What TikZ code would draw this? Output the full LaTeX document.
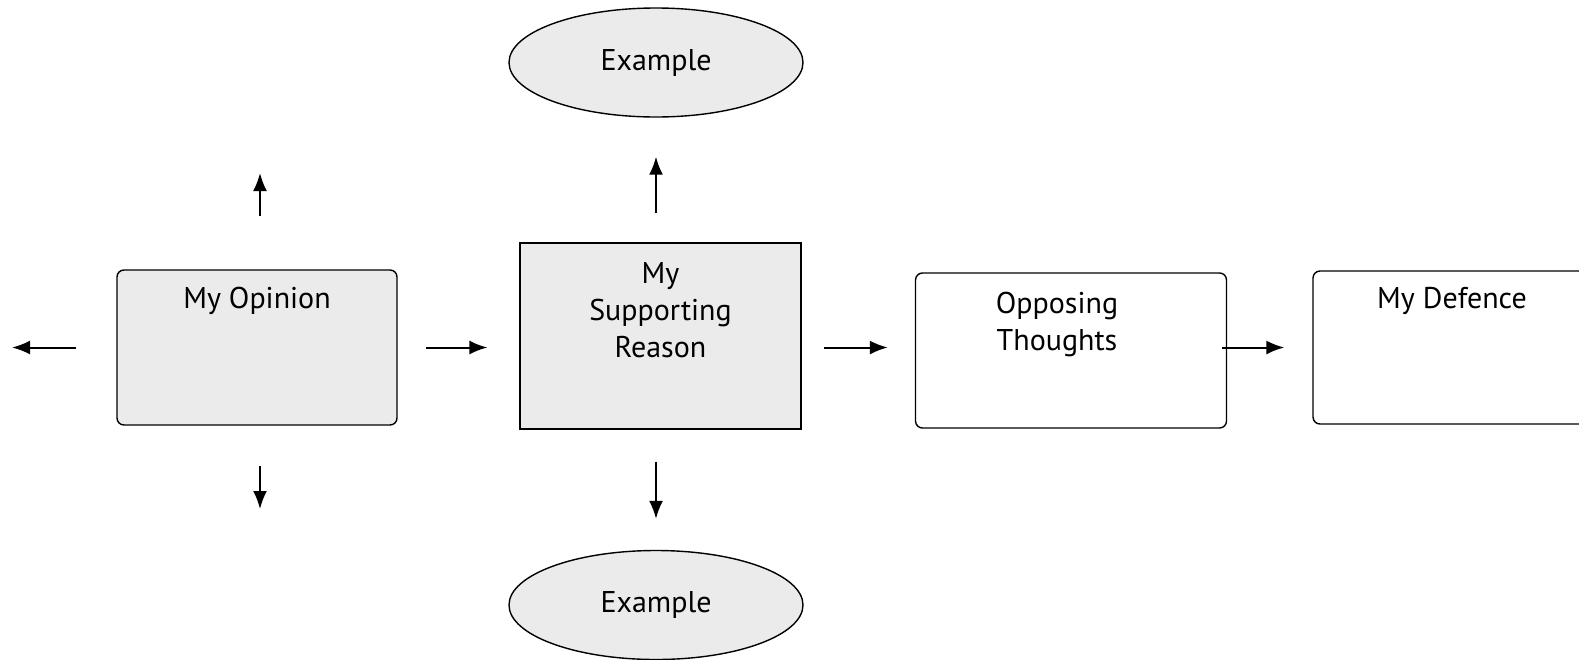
\documentclass[tikz,border=0pt]{standalone}
\usepackage{fontspec}
\setmainfont{PT Sans}
\usetikzlibrary{arrows.meta,positioning,calc,shapes.geometric}
\definecolor{cardgray}{HTML}{EBEBEB}

\begin{document}
\begin{tikzpicture}[x=0.5pt,y=-0.5pt,>={Latex[length=9pt,width=7pt]},
    every node/.style={font=\fontsize{15}{18.5}\selectfont,align=center},
    card/.style={draw,line width=0.7pt,rounded corners=3.5pt,minimum height=77.5pt},
    plain/.style={draw,line width=0.6pt,minimum width=140.5pt,minimum height=93pt},
    bubble/.style={draw,ellipse,line width=0.7pt,fill=cardgray,minimum width=147pt,minimum height=54.5pt},
    arrow/.style={->,line width=1pt}]
    \clip (0,0) rectangle (1579,659);
    \node[card,fill=cardgray,minimum width=140pt,label={[anchor=center,yshift=-16pt]north:My Opinion}] (op) at (257,347.5) {};
    \node[plain,fill=cardgray,label={[anchor=center,yshift=-34pt]north:My\\Supporting\\Reason}] (sr) at (660.5,336) {};
    \node[card,minimum width=155.5pt,label={[anchor=center,yshift=-26pt,xshift=-7pt]north:Opposing\\Thoughts}] (ot) at (1071,350.5) {};
    \node[card,minimum width=139pt,minimum height=76.5pt,label={[anchor=center,yshift=-15.5pt]north:My Defence}] (md) at (1452,347.5) {};
    \node[bubble] (ex1) at (656,62.5) {Example};
    \node[bubble] (ex2) at (656,605) {Example};
    % free ends round the opinion
    \coordinate (opl) at (12,347.5);
    \coordinate (opu) at (260,173);
    \coordinate (opd) at (260,509);
    \draw[arrow,shorten <=20pt] (op.west) -- (opl);
    \draw[arrow,shorten <=26.5pt] (op.north -| opu) -- (opu);
    \draw[arrow,shorten <=20pt] (op.south -| opd) -- (opd);
    \draw[arrow,shorten <=14pt,shorten >=16pt] (op.east) -- (op.east -| sr.west);
    \draw[arrow,shorten <=14.5pt,shorten >=19.5pt] (sr.north -| ex1.south) -- (ex1.south);
    \draw[arrow,shorten <=16pt,shorten >=15.5pt] (sr.south -| ex2.north) -- (ex2.north);
    \draw[arrow,shorten <=11pt,shorten >=13.5pt] (op.east -| sr.east) -- (op.east -| ot.west);
    \draw[arrow,shorten <=-2.5pt,shorten >=14pt] (md.west -| ot.east) -- (md.west);
\end{tikzpicture}
\end{document}
